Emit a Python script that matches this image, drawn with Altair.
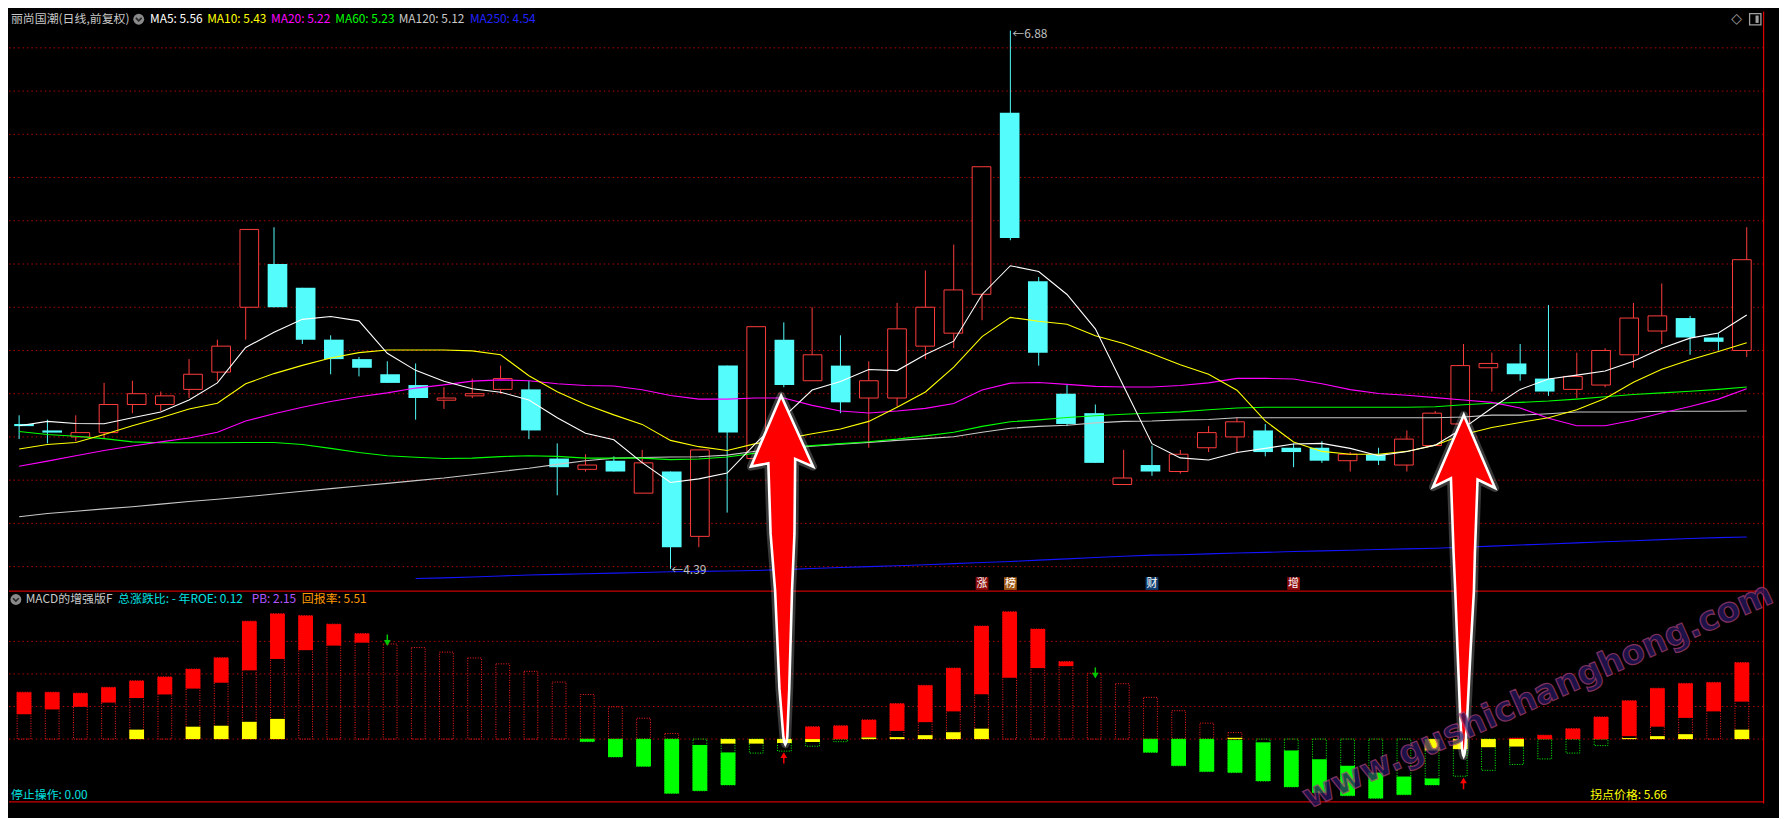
import altair as alt
import pandas as pd

# ---------------- values ----------------
idx = list(range(62))
opens = [5.06,5.03,5.00,5.02,5.15,5.15,5.22,5.30,5.60,5.80,
         5.69,5.45,5.36,5.29,5.24,5.17,5.19,5.22,5.22,4.90,
         4.85,4.89,4.74,4.84,4.54,5.33,4.90,5.45,5.26,5.33,
         5.18,5.18,5.42,5.48,5.66,6.50,5.72,5.20,5.11,4.78,
         4.87,4.84,4.95,5.00,5.03,4.95,4.95,4.89,4.92,4.87,
         4.96,5.06,5.32,5.34,5.27,5.22,5.24,5.38,5.49,5.55,
         5.46,5.40]
closes = [5.05,5.02,5.02,5.15,5.20,5.19,5.29,5.42,5.96,5.60,
          5.45,5.36,5.32,5.25,5.18,5.18,5.20,5.27,5.03,4.86,
          4.87,4.84,4.88,4.49,4.94,5.02,5.51,5.24,5.38,5.16,
          5.26,5.50,5.60,5.68,6.25,5.92,5.39,5.06,4.88,4.81,
          4.84,4.92,5.02,5.07,4.93,4.93,4.89,4.92,4.89,4.99,
          5.11,5.33,5.34,5.29,5.21,5.28,5.40,5.55,5.56,5.46,
          5.44,5.82]
highs = [5.10,5.08,5.10,5.25,5.26,5.21,5.36,5.45,5.96,5.97,
         5.69,5.47,5.37,5.35,5.34,5.23,5.27,5.33,5.26,4.97,
         4.92,4.91,4.94,4.84,4.94,5.33,5.51,5.53,5.60,5.47,
         5.35,5.62,5.77,5.89,6.25,6.88,5.74,5.24,5.15,4.94,
         4.96,4.94,5.05,5.09,5.06,4.97,4.98,4.93,4.95,5.03,
         5.12,5.43,5.39,5.43,5.61,5.39,5.41,5.62,5.71,5.56,
         5.48,5.97]
lows = [4.99,4.97,4.98,4.99,5.11,5.12,5.18,5.26,5.45,5.60,
        5.43,5.29,5.28,5.25,5.08,5.13,5.18,5.20,4.99,4.73,
        4.84,4.84,4.74,4.39,4.49,4.65,4.90,5.23,5.26,5.11,
        4.95,5.14,5.36,5.41,5.54,5.91,5.33,5.05,4.88,4.78,
        4.82,4.83,4.93,4.93,4.91,4.86,4.88,4.84,4.87,4.84,
        4.96,5.06,5.21,5.26,5.19,5.18,5.23,5.32,5.43,5.38,
        5.40,5.37]

ma5 = [5.052,5.072,5.062,5.061,5.089,5.115,5.171,5.250,5.414,5.484,
       5.544,5.557,5.537,5.387,5.308,5.258,5.223,5.207,5.171,5.089,
       5.017,4.987,4.881,4.789,4.806,4.833,4.969,5.093,5.217,5.256,
       5.312,5.307,5.381,5.443,5.659,5.792,5.765,5.659,5.500,5.235,
       4.969,4.903,4.893,4.928,4.947,4.967,4.970,4.947,4.913,4.933,
       4.962,5.041,5.134,5.220,5.268,5.286,5.305,5.350,5.410,5.457,
       5.481,5.564]
ma10 = [4.944,4.965,4.974,5.011,5.052,5.089,5.129,5.156,5.246,5.293,
        5.331,5.365,5.390,5.402,5.402,5.402,5.398,5.380,5.283,5.209,
        5.150,5.102,5.058,4.984,4.955,4.937,4.969,4.990,5.015,5.037,
        5.072,5.137,5.208,5.323,5.464,5.553,5.535,5.521,5.468,5.432,
        5.385,5.334,5.290,5.216,5.074,4.977,4.933,4.920,4.920,4.933,
        4.962,5.011,5.044,5.067,5.089,5.126,5.178,5.253,5.313,5.357,
        5.395,5.436]
ma20 = [4.864,4.888,4.913,4.937,4.958,4.977,4.995,5.022,5.074,5.107,
        5.137,5.164,5.186,5.204,5.226,5.241,5.258,5.264,5.260,5.246,
        5.238,5.236,5.218,5.192,5.175,5.175,5.180,5.180,5.146,5.120,
        5.111,5.120,5.132,5.155,5.217,5.249,5.252,5.243,5.234,5.231,
        5.231,5.238,5.250,5.271,5.271,5.268,5.246,5.219,5.201,5.193,
        5.182,5.171,5.160,5.134,5.086,5.052,5.052,5.077,5.111,5.141,
        5.175,5.223]
ma60 = [5.025,5.011,5.003,4.992,4.977,4.973,4.973,4.973,4.974,4.974,
        4.965,4.947,4.928,4.913,4.906,4.900,4.902,4.909,4.913,4.910,
        4.902,4.902,4.902,4.895,4.898,4.907,4.925,4.951,4.960,4.969,
        4.978,4.990,5.005,5.022,5.049,5.070,5.079,5.090,5.098,5.105,
        5.111,5.116,5.126,5.134,5.137,5.137,5.137,5.137,5.137,5.137,
        5.140,5.149,5.156,5.160,5.166,5.175,5.186,5.196,5.204,5.211,
        5.220,5.231]
ma120 = [4.631,4.646,4.656,4.667,4.677,4.689,4.701,4.712,4.723,4.736,
         4.749,4.761,4.773,4.785,4.798,4.810,4.825,4.840,4.855,4.873,
         4.890,4.902,4.905,4.907,4.908,4.916,4.934,4.946,4.957,4.966,
         4.975,4.984,4.992,5.001,5.022,5.040,5.049,5.054,5.065,5.072,
         5.074,5.079,5.081,5.089,5.089,5.089,5.089,5.089,5.089,5.089,
         5.089,5.092,5.101,5.101,5.107,5.115,5.115,5.115,5.119,5.119,
         5.119,5.120]
ma250 = [None]*14 + [4.345,4.348,4.352,4.357,4.361,4.364,
         4.367,4.370,4.373,4.376,4.378,4.380,4.382,4.386,4.391,4.396,
         4.400,4.404,4.409,4.414,4.419,4.424,4.430,4.436,4.442,4.448,
         4.453,4.455,4.459,4.463,4.466,4.470,4.473,4.476,4.479,4.482,
         4.485,4.490,4.495,4.500,4.505,4.510,4.515,4.520,4.525,4.530,
         4.534,4.537]

N = None
pos_top = [1.44,1.44,1.41,1.59,1.79,1.91,2.15,2.50,3.62,3.85,
           3.79,3.53,3.24,2.92,2.81,2.67,2.49,2.31,2.08,1.75,
           1.37,0.99,0.64,0.17,N,N,N,N,0.38,0.41,
           0.59,1.09,1.65,2.18,3.47,3.91,3.38,2.38,2.02,1.70,
           1.28,0.87,0.49,0.20,N,N,N,N,N,N,
           N,N,N,0.03,0.12,0.32,0.68,1.18,1.56,1.71,
           1.74,2.35]
red_lo = [0.76,0.91,0.99,1.12,1.26,1.37,1.55,1.73,2.11,2.46,
          2.73,2.87,2.96,N,N,N,N,N,N,N,
          N,N,N,N,N,N,N,N,0.0,0.0,
          0.06,0.25,0.52,0.85,1.38,1.88,2.18,2.24,N,N,
          N,N,N,N,N,N,N,N,N,N,
          N,N,N,0.0,0.0,0.0,0.0,0.09,0.38,0.65,
          0.85,1.15]
neg_bot = [N,N,N,N,N,N,N,N,N,N,
           N,N,N,N,N,N,N,N,N,N,
           -0.08,-0.55,-0.84,-1.67,-1.59,-1.41,-0.43,-0.37,-0.22,-0.08,
           N,N,N,N,N,N,N,N,N,N,
           -0.41,-0.82,-1.00,-1.03,-1.29,-1.47,-1.65,-1.74,-1.82,-1.71,
           -1.41,-1.14,-0.96,-0.78,-0.61,-0.43,-0.20,N,N,N,
           N,N]
green_hi = [N,N,N,N,N,N,N,N,N,N,
            N,N,N,N,N,N,N,N,N,N,
            0.0,0.0,0.0,0.0,-0.18,-0.41,N,N,N,N,
            N,N,N,N,N,N,N,N,N,N,
            0.0,0.0,0.0,-0.03,-0.10,-0.35,-0.62,-0.82,-1.03,-1.15,
            -1.21,N,N,N,N,N,N,N,N,N,
            N,N]
yellow = [N,N,N,N,0.29,N,0.38,0.41,0.53,0.62,
          N,N,N,N,N,N,N,N,N,N,
          N,N,N,N,N,-0.14,-0.14,-0.12,-0.09,N,
          0.05,0.06,0.12,0.21,0.32,N,N,N,N,N,
          N,N,N,0.04,N,N,N,N,N,N,
          -0.35,-0.31,-0.25,-0.23,N,N,N,0.03,0.09,0.15,
          N,0.29]

price_ticks = [4.4, 4.6, 4.8, 5.0, 5.2, 5.4, 5.6, 5.8, 6.0, 6.2, 6.4, 6.6, 6.8]
macd_ticks = [0, 1, 2, 3]

# signal arrows in the lower panel (bar index, tail value, head value)
sig_dn_i = [13, 38]; sig_dn_tail = [3.21, 2.20]; sig_dn_head = [2.95, 1.95]
sig_up_i = [27, 51]; sig_up_tail = [-0.75, -1.54]; sig_up_head = [-0.49, -1.27]

# big annotation arrows: tip (bar index, price) and outline offsets from the tip (reference px)
big_tip_i = [26.905, 51.010]
big_tip_p = [5.191, 5.101]
arrow1_dx = [0, 32.6, 14.3, 13.6, 11.1, 8.3, 6.3, 5.3, 4.3, 3.3, 2.3, -1.7, -6.1, -10.7, -13.0, -30.7]
arrow1_dy = [0, 73.4, 65.4, 142.7, 201.7, 302.7, 352.7, 358.5, 360.5, 358.5, 352.7, 302.7, 201.7, 142.7, 70.0, 73.4]
arrow2_dx = [0, 31.8, 14.0, 11.3, 10.3, 6.9, 3.6, 1.5, 0.6, -0.1, -0.8, -1.8, -3.7, -6.4, -8.7, -10.4, -13.1, -31.4]
arrow2_dy = [0, 75.4, 66.7, 142.7, 181.7, 242.7, 309.4, 345, 351, 352.7, 351, 345, 309.4, 242.7, 181.7, 142.7, 65.4, 74.4]

badge_i = [34, 35, 40, 45]
badge_t = ['涨', '榜', '财', '增']
badge_bg = ['#8C0A0A', '#9C5612', '#123F72', '#8C0A0A']

# ---------------- layout ----------------
W, H = 1767, 797
SX, SY = W / 1787.0, H / 819.0
def px(x): return x * SX
def py(y): return y * SY

X0, DX = 10.3, 28.82
def p_at(y): return 6.8 - (y - 37.6) / 223.5
def m_at(y): return (752.3 - y) / 33.67

XS = alt.Scale(domain=[(0 - X0) / DX, (1787 - X0) / DX], nice=False, zero=False)
PS = alt.Scale(domain=[p_at(819), p_at(0)], nice=False, zero=False)
MS = alt.Scale(domain=[m_at(819), m_at(0)], nice=False, zero=False)

def ex(f): return alt.X(f + ':Q', scale=XS, axis=None)
def ep(f): return alt.Y(f + ':Q', scale=PS, axis=None)
def em(f): return alt.Y(f + ':Q', scale=MS, axis=None)
def qx(f): return alt.X(f + ':Q', scale=None, axis=None)
def qy(f): return alt.Y(f + ':Q', scale=None, axis=None)

RED = '#FF3C3C'
CYAN = '#54FCFC'
GRID = '#B40000'
LINE = '#C80000'
FONT = 'Noto Sans CJK SC'
dummy = pd.DataFrame({'a': [0]})

layers = []

# grid lines
layers.append(alt.Chart(pd.DataFrame({'p': price_ticks})).mark_rule(
    color=GRID, strokeDash=[1.5, 3], strokeWidth=1).encode(
    y=ep('p'), x=alt.value(0), x2=alt.value(px(1785))))
layers.append(alt.Chart(pd.DataFrame({'v': macd_ticks})).mark_rule(
    color=GRID, strokeDash=[1.5, 3], strokeWidth=1).encode(
    y=em('v'), x=alt.value(0), x2=alt.value(px(1785))))

# panel borders
for yy in [599.3, 817.3]:
    layers.append(alt.Chart(dummy).mark_rule(color=LINE, strokeWidth=1.2).encode(
        x=alt.value(0), x2=alt.value(px(1786)), y=alt.value(py(yy))))
layers.append(alt.Chart(dummy).mark_rule(color='#E00000', strokeWidth=1.2).encode(
    x=alt.value(px(1785.5)), y=alt.value(0), y2=alt.value(H)))

# candles
cdf = pd.DataFrame({'i': idx, 'o': opens, 'h': highs, 'l': lows, 'c': closes})
up = cdf[cdf.c >= cdf.o]
dn = cdf[cdf.c < cdf.o]
layers.append(alt.Chart(up).mark_rule(color=RED, strokeWidth=1).encode(
    x=ex('i'), y=ep('l'), y2=alt.Y2('h:Q')))
layers.append(alt.Chart(up).mark_bar(size=px(19), fill='#000000', stroke=RED, strokeWidth=1).encode(
    x=ex('i'), y=ep('o'), y2=alt.Y2('c:Q')))
layers.append(alt.Chart(dn).mark_rule(color=CYAN, strokeWidth=1).encode(
    x=ex('i'), y=ep('l'), y2=alt.Y2('h:Q')))
layers.append(alt.Chart(dn).mark_bar(size=px(20), color=CYAN).encode(
    x=ex('i'), y=ep('o'), y2=alt.Y2('c:Q')))

# moving averages
ma_names = ['MA250', 'MA120', 'MA60', 'MA20', 'MA10', 'MA5']
ma_cols = ['#1414FF', '#C8C8C8', '#00FF00', '#FF00FF', '#FFFF00', '#FFFFFF']
ma_vals = [ma250, ma120, ma60, ma20, ma10, ma5]
rows = []
for nm, vals in zip(ma_names, ma_vals):
    for i, v in enumerate(vals):
        if v is not None:
            rows.append({'i': i, 'v': v, 's': nm})
madf = pd.DataFrame(rows)
layers.append(alt.Chart(madf).mark_line(strokeWidth=1.1).encode(
    x=ex('i'), y=ep('v'),
    color=alt.Color('s:N', scale=alt.Scale(domain=ma_names, range=ma_cols), legend=None)))

# MACD-style bars
def rng(lo_list, hi_list, lo_const=None):
    r = []
    for i in idx:
        hi = hi_list[i]
        lo = lo_const if lo_const is not None else lo_list[i]
        if hi is None or lo is None:
            continue
        r.append({'i': i, 'lo': lo, 'hi': hi})
    return pd.DataFrame(r)

pos_df = rng(None, pos_top, 0.0)
neg_df = rng(None, neg_bot, 0.0)
redf = rng(red_lo, pos_top)
grnf = rng(green_hi, neg_bot)
yelf = rng(None, yellow, 0.0)

layers.append(alt.Chart(pos_df).mark_bar(filled=False, color='#FF1E1E', strokeDash=[1, 1.5],
    strokeWidth=1, size=px(14)).encode(x=ex('i'), y=em('lo'), y2=alt.Y2('hi:Q')))
layers.append(alt.Chart(neg_df).mark_bar(filled=False, color='#00FF00', strokeDash=[1, 1.5],
    strokeWidth=1, size=px(14)).encode(x=ex('i'), y=em('lo'), y2=alt.Y2('hi:Q')))
layers.append(alt.Chart(redf).mark_bar(color='#FF0000', size=px(15)).encode(
    x=ex('i'), y=em('lo'), y2=alt.Y2('hi:Q')))
layers.append(alt.Chart(grnf).mark_bar(color='#00FF00', size=px(15)).encode(
    x=ex('i'), y=em('lo'), y2=alt.Y2('hi:Q')))
layers.append(alt.Chart(yelf).mark_bar(color='#FFFF00', size=px(15)).encode(
    x=ex('i'), y=em('lo'), y2=alt.Y2('hi:Q')))

# small signal arrows
sdn = pd.DataFrame({'i': sig_dn_i, 't': sig_dn_tail, 'h': sig_dn_head})
sup = pd.DataFrame({'i': sig_up_i, 't': sig_up_tail, 'h': sig_up_head})
layers.append(alt.Chart(sdn).mark_rule(color='#00C800', strokeWidth=1.5).encode(
    x=ex('i'), y=em('t'), y2=alt.Y2('h:Q')))
layers.append(alt.Chart(sdn).mark_point(shape='triangle-down', filled=True, size=45,
    color='#00C800', opacity=1).encode(x=ex('i'), y=em('h')))
layers.append(alt.Chart(sup).mark_rule(color='#FF0000', strokeWidth=1.5).encode(
    x=ex('i'), y=em('t'), y2=alt.Y2('h:Q')))
layers.append(alt.Chart(sup).mark_point(shape='triangle-up', filled=True, size=45,
    color='#FF0000', opacity=1).encode(x=ex('i'), y=em('h')))

# badges
bdf = pd.DataFrame({'i': badge_i, 't': badge_t, 'bg': badge_bg, 'y': [py(591.5)] * 4})
layers.append(alt.Chart(bdf).mark_point(shape='square', filled=True, size=165, opacity=1).encode(
    x=ex('i'), y=qy('y'), color=alt.Color('bg:N', scale=None)))
layers.append(alt.Chart(bdf).mark_text(font=FONT, fontSize=11, color='#FFFFFF',
    baseline='middle', align='center').encode(x=ex('i'), y=qy('y'), text='t:N'))

# texts
labels = [
    (2, 8, '丽尚国潮(日线,前复权)', '#C8C8C8'),
    (143.5, 8, 'MA5: 5.56', '#FFFFFF'),
    (201.7, 8, 'MA10: 5.43', '#FFFF00'),
    (266.7, 8, 'MA20: 5.22', '#FF00FF'),
    (332, 8, 'MA60: 5.23', '#00FF00'),
    (396.5, 8, 'MA120: 5.12', '#C8C8C8'),
    (469, 8, 'MA250: 4.54', '#2323FF'),
    (17, 608, 'MACD的增强版F', '#C8C8C8'),
    (111, 608, '总涨跌比: - 年ROE: 0.12', '#00E1E1'),
    (247, 608, 'PB: 2.15', '#B455FF'),
    (298, 608, '回报率: 5.51', '#FF9A00'),
    (2, 810, '停止操作: 0.00', '#00E1E1'),
    (1609, 810, '拐点价格: 5.66', '#FFFF00'),
    (1021, 23, '←6.88', '#BEBEBE'),
    (674, 577, '←4.39', '#BEBEBE'),
]
tdf = pd.DataFrame({'x': [px(a[0]) for a in labels], 'y': [py(a[1]) for a in labels],
                    't': [a[2] for a in labels], 'c': [a[3] for a in labels]})
layers.append(alt.Chart(tdf).mark_text(font=FONT, fontSize=12, align='left', baseline='middle').encode(
    x=qx('x'), y=qy('y'), text='t:N', color=alt.Color('c:N', scale=None)))

# small icons
icdf = pd.DataFrame({'x': [px(132), px(7)], 'y': [py(8), py(608)]})
layers.append(alt.Chart(icdf).mark_point(shape='circle', filled=True, size=120, color='#8A8A8A',
    opacity=1).encode(x=qx('x'), y=qy('y')))
layers.append(alt.Chart(icdf).mark_point(shape='M-0.55,-0.25L0,0.3L0.55,-0.25', filled=False,
    size=110, color='#262626', strokeWidth=1.6, opacity=1).encode(x=qx('x'), y=qy('y')))
layers.append(alt.Chart(dummy).mark_text(text='◇', font='DejaVu Sans', fontSize=14, color='#A0A0A0',
    align='center', baseline='middle').encode(x=alt.value(px(1758)), y=alt.value(py(8))))
layers.append(alt.Chart(dummy).mark_point(shape='square', filled=False, size=130, color='#A0A0A0',
    strokeWidth=1.3, opacity=1).encode(x=alt.value(px(1777)), y=alt.value(py(8))))
layers.append(alt.Chart(dummy).mark_point(shape='M0.05,-0.65L0.6,-0.65L0.6,0.65L0.05,0.65Z', filled=True,
    size=130, color='#A0A0A0', opacity=1).encode(x=alt.value(px(1777)), y=alt.value(py(8))))

# big annotation arrows (custom symbol anchored at the tip; 1 path unit = 5 px)
UNIT = 5.0
def arrow_path(dxs, dys):
    pts = ['%.3f,%.3f' % (px(dx) / UNIT, py(dy) / UNIT) for dx, dy in zip(dxs, dys)]
    return 'M' + 'L'.join(pts) + 'Z'

for k, (dxs, dys) in enumerate([(arrow1_dx, arrow1_dy), (arrow2_dx, arrow2_dy)]):
    adf = pd.DataFrame({'i': [big_tip_i[k]], 'p': [big_tip_p[k]]})
    shape = arrow_path(dxs, dys)
    layers.append(alt.Chart(adf).mark_point(shape=shape, filled=True, size=(2 * UNIT) ** 2,
        fill='#FF0000', stroke='#FFFFFF', strokeWidth=8, strokeOpacity=0.22, strokeJoin='round',
        opacity=1, fillOpacity=1).encode(x=ex('i'), y=ep('p')))
    layers.append(alt.Chart(adf).mark_point(shape=shape, filled=True, size=(2 * UNIT) ** 2,
        fill='#FF0000', stroke='#FFFFFF', strokeWidth=2.6, strokeJoin='miter',
        opacity=1, fillOpacity=1).encode(x=ex('i'), y=ep('p')))

# watermark
layers.append(alt.Chart(dummy).mark_text(font='DejaVu Sans', fontSize=34, fontWeight='bold',
    angle=336, fill='#261862', stroke='#A8407A', strokeWidth=1.2, opacity=0.75,
    align='center', baseline='middle').encode(
    x=alt.value(px(1556)), y=alt.value(py(708)), text=alt.value('www.gushichanghong.com')))

chart = alt.layer(*layers).properties(
    width=W, height=H, padding=0, background='#000000'
).resolve_scale(x='independent', y='independent').configure_view(strokeWidth=0)

chart.save("out.html", embed_options={"renderer": "svg", "actions": False})
